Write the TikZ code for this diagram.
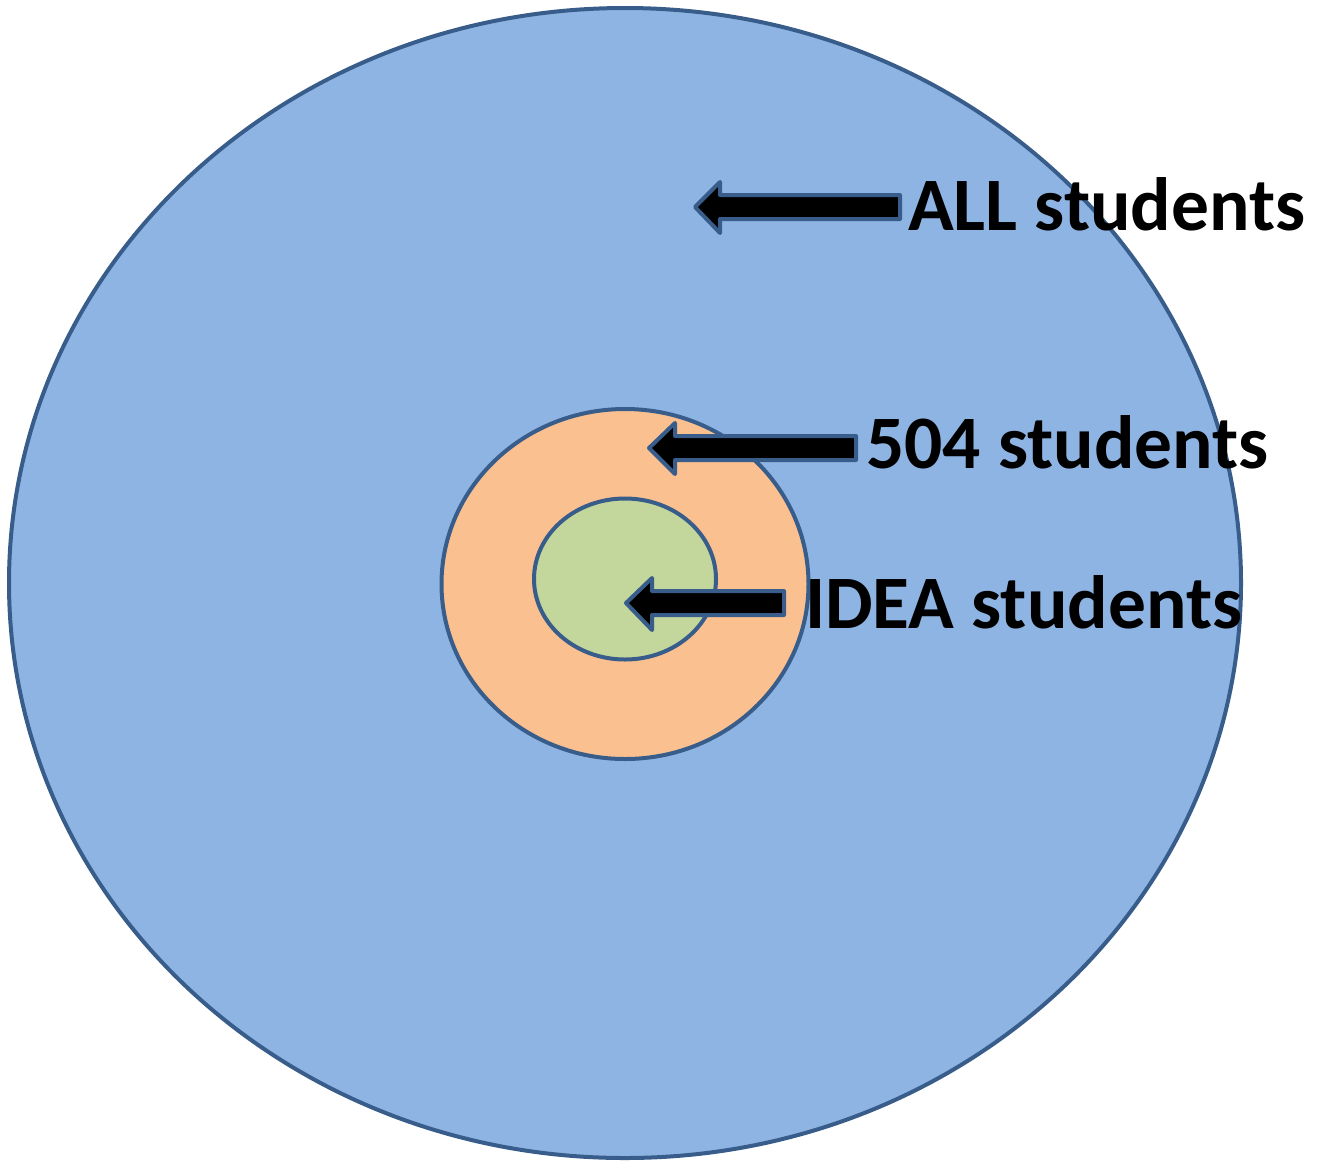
\documentclass[tikz,border=0pt]{standalone}
\usepackage{fontspec}
\setmainfont{Carlito}
\usetikzlibrary{shapes.geometric}
\definecolor{outerfill}{HTML}{8EB4E3}
\definecolor{midfill}{HTML}{FAC090}
\definecolor{innerfill}{HTML}{C3D69B}
\definecolor{edge}{HTML}{385D8A}
\tikzset{
  ring/.style={ellipse, draw=edge, line width=4pt, inner sep=0pt},
  blockarrow/.style={fill=black, draw=edge, line width=4pt, line join=round},
  lbl/.style={anchor=base west, inner sep=0pt, font=\fontsize{75.5}{80}\selectfont\bfseries}
}
\begin{document}
\begin{tikzpicture}[x=1pt,y=-1pt]
\useasboundingbox (0,0) rectangle (1322,1163);
\node[ring, fill=outerfill, minimum width=1232pt, minimum height=1150pt] (outer) at (625,583) {};
\node[ring, fill=midfill, minimum width=367pt, minimum height=350pt] (mid) at (625,584) {};
\node[ring, fill=innerfill, minimum width=182pt, minimum height=161pt] (inner) at (625,579) {};
% arrows
\draw[blockarrow] (695,207) -- (720,182) -- (720,195) -- (900,195) -- (900,219) -- (720,219) -- (720,233) -- cycle;
\draw[blockarrow] (649,448) -- (675,423) -- (675,436) -- (856,436) -- (856,460) -- (675,460) -- (675,474) -- cycle;
\draw[blockarrow] (626,603) -- (652,578) -- (652,591) -- (784,591) -- (784,615) -- (652,615) -- (652,630) -- cycle;
\node[lbl] (all) at (908,230) {ALL students};
\node[lbl] (s504) at (866,468) {504 students};
\node[lbl] (idea) at (805,628) {IDEA students};
\end{tikzpicture}
\end{document}
